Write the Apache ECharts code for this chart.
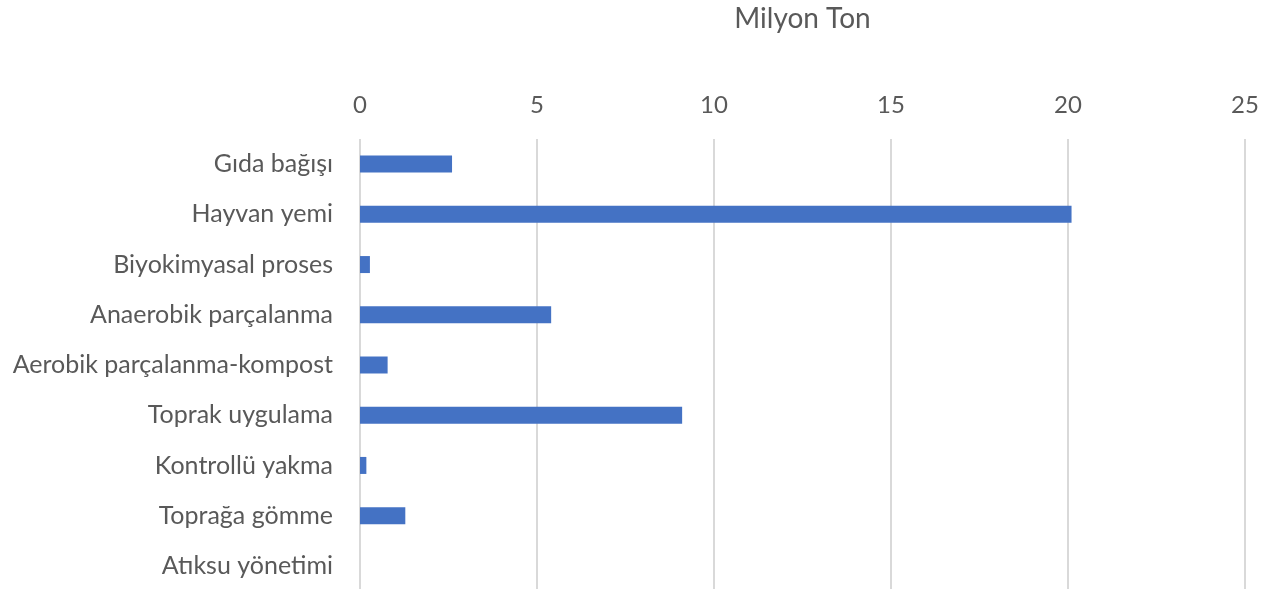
<!DOCTYPE html>
<html>
<head>
<meta charset="utf-8">
<script src="https://cdn.jsdelivr.net/npm/echarts@6/dist/echarts.min.js"></script>
<style>
  html, body { margin: 0; padding: 0; background: #fff; }
  #chart { width: 1287px; height: 589px; }
</style>
</head>
<body>
<div id="chart"></div>
<script>
// Food-waste disposal routes, million tonnes
const categories = [
  'Gıda bağışı',
  'Hayvan yemi',
  'Biyokimyasal proses',
  'Anaerobik parçalanma',
  'Aerobik parçalanma-kompost',
  'Toprak uygulama',
  'Kontrollü yakma',
  'Toprağa gömme',
  'Atıksu yönetimi'
];
const values = [2.6, 20.1, 0.28, 5.4, 0.78, 9.1, 0.18, 1.28, 0];
const axisTitle = 'Milyon Ton';

const FONT = 'Lato, "Open Sans", sans-serif';
const TEXT = '#595959';
const chart = echarts.init(document.getElementById('chart'));
chart.setOption({
  animation: false,
  grid: {
    left: 360, right: 42, top: 139, height: 452,
    containLabel: false,
    outerBoundsMode: 'none'
  },
  xAxis: {
    type: 'value',
    position: 'top',
    min: 0, max: 25, interval: 5,
    name: axisTitle,
    nameLocation: 'middle',
    nameGap: 106,
    nameTextStyle: { fontFamily: FONT, fontSize: 28, color: TEXT },
    axisLine: { show: false },
    axisTick: { show: false },
    axisLabel: { margin: 22, fontFamily: FONT, fontSize: 24, color: TEXT },
    splitLine: { show: true, lineStyle: { color: '#d9d9d9', width: 2 } }
  },
  yAxis: {
    type: 'category',
    data: categories,
    inverse: true,
    axisLine: { show: false },
    axisTick: { show: false },
    axisLabel: { margin: 27, fontFamily: FONT, fontSize: 25, color: TEXT }
  },
  series: [{
    type: 'bar',
    data: values,
    barWidth: 17,
    itemStyle: { color: '#4472c4' }
  }]
});
</script>
</body>
</html>
